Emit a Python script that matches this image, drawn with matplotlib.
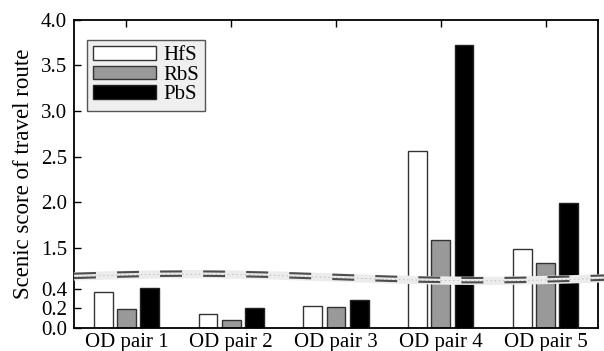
import numpy as np
import matplotlib
matplotlib.use("Agg")
import matplotlib.pyplot as plt

categories = ["OD pair 1", "OD pair 2", "OD pair 3", "OD pair 4", "OD pair 5"]
series_names = ["HfS", "RbS", "PbS"]
hfs = [0.37, 0.14, 0.227, 2.56, 1.49]
rbs = [0.193, 0.08, 0.21, 1.59, 1.34]
pbs = [0.41, 0.207, 0.29, 3.72, 1.99]
lower_ticks = [0.0, 0.2, 0.4]
upper_ticks = [1.5, 2.0, 2.5, 3.0, 3.5, 4.0]

plt.rcParams['font.family'] = ['Liberation Serif', 'DejaVu Serif']
plt.rcParams['lines.scale_dashes'] = False

LO_TOP = 0.524
HI_BOT = 1.184
K_LO = 1.0585


def fwd(v):
    v = np.asarray(v, dtype=float)
    return np.where(v <= LO_TOP, v * K_LO,
                    np.where(v >= HI_BOT, LO_TOP * K_LO + (v - HI_BOT), LO_TOP * K_LO))


def inv(d):
    d = np.asarray(d, dtype=float)
    return np.where(d <= LO_TOP * K_LO, d / K_LO, HI_BOT + d - LO_TOP * K_LO)


fig = plt.figure(figsize=(6.04, 3.51), dpi=100)
W, H = 604, 351
ax_l, ax_r, ax_b, ax_t = 74, 598, 327.7, 19.6
ax = fig.add_axes([ax_l / W, (H - ax_b) / H, (ax_r - ax_l) / W, (ax_b - ax_t) / H])
ax.set_yscale('function', functions=(fwd, inv))

x = np.arange(1, len(categories) + 1)
bw = 0.18
off = 0.222
colors = ['white', '#999999', 'black']
edges = ['#333333', '#333333', '#222222']
for i, (vals, name) in enumerate(zip([hfs, rbs, pbs], series_names)):
    ax.bar(x + (i - 1) * off, vals, width=bw, color=colors[i], edgecolor=edges[i],
           linewidth=1.0, label=name, zorder=2)

ax.set_xlim(0.5, 5.5)
ax.set_ylim(0, 4.0)
ax.set_xticks(x)
ax.set_xticklabels(categories, fontsize=15)
ax.set_yticks(lower_ticks + upper_ticks)
ax.set_yticklabels([f"{t:.1f}" for t in lower_ticks + upper_ticks], fontsize=15)
ax.tick_params(axis='y', direction='in', length=5, width=1, left=True, right=False, pad=5)
ax.tick_params(axis='x', direction='in', length=5, width=1, bottom=False, top=True,
               labelbottom=True, pad=4)
ax.minorticks_off()
for s in ax.spines.values():
    s.set_linewidth(1.3)
ax.set_ylabel("Scenic score of travel route", fontsize=16.5, labelpad=5)

# axis break band
axw = ax_r - ax_l
axh = ax_b - ax_t
px = np.linspace(ax_l, W, 400)
yup = 274.7 - 3.3 * np.sin(2 * np.pi * (px - 45) / 580)
xf = (px - ax_l) / axw
def yf(ypx):
    return (ax_b - ypx) / axh
ax.plot(xf, yf(yup + 2.8), transform=ax.transAxes, color='#ececec', lw=6.0,
        solid_capstyle='butt', clip_on=False, zorder=5)
ax.plot(xf, yf(yup + 2.8), transform=ax.transAxes, color='#b5b5b5', lw=0.6,
        linestyle=(0, (1.0, 2.0)), clip_on=False, zorder=6)
for dy in (0.0, 4.4):
    ax.plot(xf, yf(yup + dy), transform=ax.transAxes, color='#4d4d4d', lw=1.5,
            linestyle=(0, (15.8, 15.2)), clip_on=False, zorder=6)

leg = ax.legend(loc='upper left', bbox_to_anchor=(13 / axw, 1 - 20 / axh), borderaxespad=0,
                fontsize=15, handlelength=3.0, handleheight=0.65, handletextpad=0.35,
                labelspacing=0.02, borderpad=0.3, fancybox=False, framealpha=1)
leg.get_frame().set_facecolor('#efefef')
leg.get_frame().set_edgecolor('#555555')
leg.get_frame().set_linewidth(1.0)

fig.savefig("out.png", dpi=100)
